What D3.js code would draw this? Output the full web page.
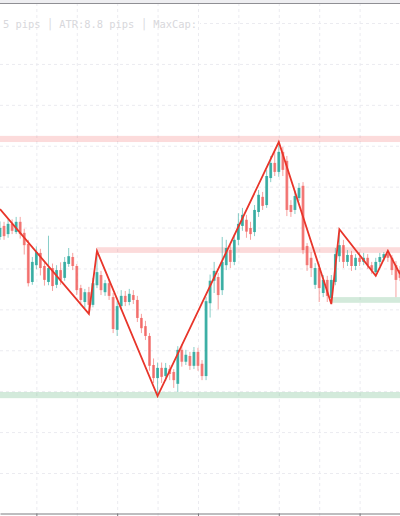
<!DOCTYPE html>
<html><head><meta charset="utf-8">
<script src="https://cdn.jsdelivr.net/npm/d3@7"></script>
<style>html,body{margin:0;padding:0;background:#fff;overflow:hidden}</style>
</head><body><div id="chart"></div>
<script>
// ---- data (price in pips above an arbitrary base) ----
const opens  = [57.7,60.4,58.4,60.9,58.9,61.4,58.7,56.0,46.7,50.8,53.8,50.6,46.7,50.1,46.0,49.6,47.7,51.1,52.8,50.6,45.2,41.8,44.2,41.1,45.9,48.4,44.2,46.4,43.0,35.0,40.8,43.3,41.8,43.5,42.3,37.9,35.9,33.5,26.4,23.2,25.7,23.7,25.4,24.7,21.8,30.1,27.2,28.6,26.2,29.6,26.7,23.7,41.5,47.0,47.9,44.7,50.8,54.5,51.6,57.0,60.4,61.9,59.9,58.9,63.8,67.5,65.5,72.1,75.8,73.6,78.5,76.3,65.5,64.3,67.2,70.2,55.5,52.6,46.0,50.1,44.0,47.2,42.8,46.7,53.0,55.7,51.6,53.3,50.6,52.6,51.6,52.6,50.8,49.1,51.6,52.6,53.5,52.6,50.8,49.6];
const highs  = [61.5,61.4,62.0,62.0,62.6,62.6,59.7,57.0,52.8,55.4,54.8,51.6,58.0,51.2,50.8,51.5,52.8,55.0,53.8,51.1,46.0,45.0,45.5,47.7,54.3,49.4,47.2,47.4,44.0,42.0,44.7,44.5,45.0,44.7,43.3,38.9,37.2,34.2,28.0,27.0,27.0,26.9,26.4,25.4,31.0,31.5,30.1,29.6,30.8,30.6,27.6,43.0,48.5,51.6,48.9,57.7,57.0,55.7,58.4,63.5,64.8,63.1,61.4,65.5,69.2,68.7,74.1,77.5,78.5,80.9,79.7,77.5,66.7,69.0,70.9,71.1,56.2,54.0,51.3,51.1,48.4,48.2,48.4,55.0,59.6,57.0,54.5,54.3,53.5,54.0,53.8,53.5,51.6,52.6,53.8,54.0,54.3,53.3,51.8,50.6];
const lows   = [57.0,57.0,57.5,58.4,58.4,57.3,53.4,45.6,46.0,49.8,48.3,45.8,45.9,44.5,45.2,46.0,47.0,50.4,49.6,43.5,41.0,40.3,38.9,40.5,45.2,43.5,43.3,42.3,34.2,33.5,40.0,40.8,41.0,41.3,36.9,34.2,32.5,25.0,22.0,18.8,22.0,22.5,22.7,20.8,19.8,26.0,26.4,25.2,25.4,25.0,22.7,22.7,38.0,44.0,40.0,43.5,49.6,50.1,50.8,55.7,59.2,57.5,57.0,57.9,62.6,64.3,64.8,71.1,72.6,72.4,72.6,62.8,62.6,63.3,66.5,53.5,49.4,47.9,45.0,41.8,43.0,41.8,41.3,45.9,51.6,50.1,50.6,49.4,49.6,50.6,50.8,49.9,48.7,48.2,50.6,51.8,51.6,48.4,43.0,46.9];
const closes = [59.9,57.9,60.9,59.2,61.4,58.4,55.7,46.4,51.6,54.0,50.1,47.2,50.1,45.7,49.6,47.2,51.6,53.0,50.6,44.7,42.3,44.2,41.1,46.4,49.1,44.7,46.4,43.3,35.2,40.8,43.3,41.8,43.8,42.3,37.9,35.4,33.5,26.2,23.2,25.7,23.5,25.7,24.2,22.7,30.1,27.2,28.9,26.2,29.6,26.2,23.7,42.0,47.0,49.4,43.5,51.6,55.0,51.6,57.0,60.9,63.1,59.0,58.4,64.3,68.0,65.3,72.6,75.8,73.6,78.5,74.1,64.3,63.8,67.7,69.7,54.5,50.8,50.1,50.1,45.2,47.2,43.3,47.2,53.5,55.7,51.6,53.3,50.6,52.6,51.6,52.6,50.8,49.6,51.6,52.8,53.5,52.6,49.6,47.2,47.7];

const zigzagIndex = [0, 22, 24, 39, 69, 82, 84, 93, 96, 99];
const zigzagPrice = [64.5, 38.9, 54.3, 18.8, 80.9, 41.3, 59.6, 48.2, 54.3, 48.6];

const levelStart = [0, 24, 0, 82];
const levelLow   = [80.9, 53.8, 18.3, 41.6];
const levelHigh  = [82.4, 55.2, 19.8, 43.0];
const levelKind  = ["res", "res", "sup", "sup"];

const priceGrid  = [0,10,20,30,40,50,60,70,80,90,100,110];
const timeGrid   = [9,19,29,39,49,59,69,79,89];
const timeTicks  = [9,29,49,69,89];
const infoText   = "5 pips │ ATR:8.8 pips │ MaxCap:";

// ---- drawing ----
const W = 400, H = 516;
const svg = d3.select("#chart").append("svg").attr("width", W).attr("height", H)
  .style("display","block").style("background","#fff");

const x = d3.scaleLinear().domain([0, 99]).range([0, 400]);
const y = d3.scaleLinear().domain([0, 110]).range([473, 23]);

// horizontal grid
svg.append("g")
  .call(d3.axisLeft(y).tickValues(priceGrid).tickSize(-W).tickFormat(""))
  .call(g => g.select(".domain").remove())
  .call(g => g.selectAll("line").attr("stroke","#ebebf0").attr("stroke-dasharray","3,3"));

// info text background
svg.append("rect").attr("x",0).attr("y",17).attr("width",200).attr("height",13).attr("fill","#fff");

// vertical grid
svg.append("g").attr("transform","translate(0,"+H+")")
  .call(d3.axisBottom(x).tickValues(timeGrid).tickSize(-H).tickFormat(""))
  .call(g => g.select(".domain").remove())
  .call(g => g.selectAll("line").attr("stroke","#ebebf0").attr("stroke-dasharray","3,3"));

// levels
const levels = levelStart.map((s,i)=>({s, lo:levelLow[i], hi:levelHigh[i], k:levelKind[i]}));
svg.append("g").selectAll("rect").data(levels).join("rect")
  .attr("x", d => x(d.s)).attr("width", d => W - x(d.s))
  .attr("y", d => y(d.hi)).attr("height", d => y(d.lo) - y(d.hi))
  .attr("fill", d => d.k === "res" ? "rgba(240,90,90,0.22)" : "rgba(80,170,110,0.25)");

// candles
const candles = opens.map((o,i)=>({i, o, h:highs[i], l:lows[i], c:closes[i]}));
const up = "#26a69a", dn = "#ef5350";
const cg = svg.append("g");
cg.selectAll("line").data(candles).join("line")
  .attr("x1", d => x(d.i)).attr("x2", d => x(d.i))
  .attr("y1", d => y(d.h)).attr("y2", d => y(d.l))
  .attr("stroke", d => d.c >= d.o ? up : dn).attr("stroke-opacity", 0.55).attr("stroke-width", 1);
const bw = 2.8;
cg.selectAll("rect").data(candles).join("rect")
  .attr("x", d => x(d.i) - bw/2).attr("width", bw)
  .attr("y", d => y(Math.max(d.o, d.c)))
  .attr("height", d => Math.max(1, Math.abs(y(d.o) - y(d.c))))
  .attr("fill", d => d.c >= d.o ? up : dn)
  .attr("fill-opacity", d => d.c >= d.o ? 0.85 : 0.7);

// zigzag
const zz = zigzagIndex.map((t,i)=>[t, zigzagPrice[i]]);
svg.append("path").datum(zz)
  .attr("d", d3.line().x(d => x(d[0])).y(d => y(d[1])))
  .attr("fill","none").attr("stroke","#e8352a").attr("stroke-width",1.8).attr("stroke-linejoin","miter");

// info text
svg.append("text").attr("x", 3).attr("y", 28).text(infoText)
  .attr("font-family","'DejaVu Sans Mono', monospace").attr("font-size", 10.4)
  .attr("fill","#d8d8dc");

// top toolbar edge
svg.append("rect").attr("x",0).attr("y",0).attr("width",W).attr("height",3).attr("fill","#eeeef1");
svg.append("line").attr("x1",0).attr("x2",W).attr("y1",3.5).attr("y2",3.5).attr("stroke","#8f8f94").attr("stroke-width",1.2);

// bottom time axis
svg.append("g").attr("transform","translate(0,513.5)")
  .call(d3.axisBottom(x).tickValues(timeTicks).tickSize(3).tickFormat("").tickSizeOuter(0))
  .call(g => g.select(".domain").attr("stroke","#7c7c80").attr("stroke-width",1.2))
  .call(g => g.selectAll(".tick line").attr("stroke","#7c7c80"));
</script>
</body></html>
